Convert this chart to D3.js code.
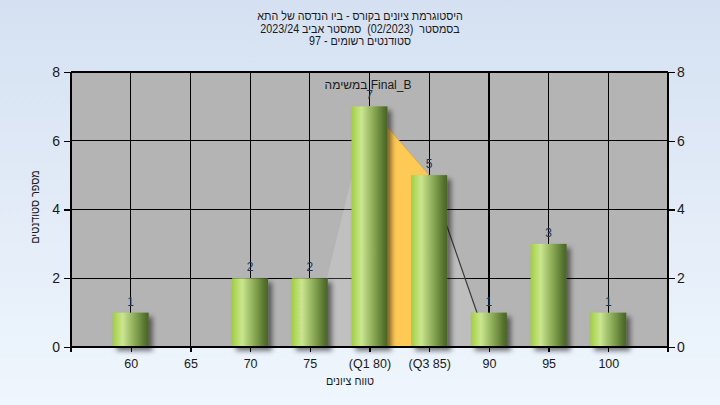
<!DOCTYPE html>
<html>
<head>
<meta charset="utf-8">
<script src="https://cdn.jsdelivr.net/npm/d3@7"></script>
<style>
  html, body { margin: 0; padding: 0; }
  svg { display: block; }
  .pre { white-space: pre; }
</style>
</head>
<body>
<svg id="chart" width="720" height="405"></svg>
<script>
// ---- data ----
const categories = ["60", "65", "70", "75", "(Q1 80)", "(Q3 85)", "90", "95", "100"];
const counts = [1, 0, 2, 2, 7, 5, 1, 3, 1];
const yTicks = [0, 2, 4, 6, 8];
// quartile overlay: whisker start, Q1, Q3, whisker end
const boxCats = ["75", "(Q1 80)", "(Q3 85)", "90"];
const boxVals = [0, 7, 5, 0];
const titleLines = [
  "היסטוגרמת ציונים בקורס - ביו הנדסה של התא",
  "בסמסטר  (02/2023)  סמסטר אביב 2023/24",
  "סטודנטים רשומים - 97"
];
const annotation = "במשימה Final_B";
const xTitle = "טווח ציונים";
const yTitle = "מספר סטודנטים";

// ---- layout ----
const W = 720, H = 405;
const plot = { left: 71, right: 668, top: 72, bottom: 347 };
const svg = d3.select("#chart");
const font = "'Liberation Sans', Arial, sans-serif";
const sx = 0.86; // horizontal condensing of the Hebrew captions

const defs = svg.append("defs");
const bg = defs.append("linearGradient").attr("id", "bg").attr("x1", 0).attr("y1", 0).attr("x2", 0).attr("y2", 1);
bg.append("stop").attr("offset", "0%").attr("stop-color", "#d5e1f2");
bg.append("stop").attr("offset", "100%").attr("stop-color", "#eff6fd");

const bar = defs.append("linearGradient").attr("id", "barG").attr("x1", 0).attr("y1", 0).attr("x2", 1).attr("y2", 0);
[["0%", "#a2cc44"], ["12%", "#b4da62"], ["28%", "#cae690"], ["45%", "#a9c672"], ["70%", "#7a9a48"], ["90%", "#55722e"], ["100%", "#4a6426"]]
  .forEach(([o, c]) => bar.append("stop").attr("offset", o).attr("stop-color", c));

const sh = defs.append("filter").attr("id", "shadow").attr("x", "-30%").attr("y", "-30%").attr("width", "180%").attr("height", "160%");
sh.append("feDropShadow").attr("dx", 4).attr("dy", 4).attr("stdDeviation", 2.4)
  .attr("flood-color", "#000").attr("flood-opacity", 0.5);

svg.append("rect").attr("width", W).attr("height", H).attr("fill", "url(#bg)");

// ---- scales ----
const x = d3.scalePoint().domain(categories).range([plot.left, plot.right]).padding(1);
const y = d3.scaleLinear().domain([0, 8]).range([plot.bottom, plot.top]);
const barW = 36;

// plot background
svg.append("rect").attr("x", plot.left).attr("y", plot.top)
  .attr("width", plot.right - plot.left).attr("height", plot.bottom - plot.top)
  .attr("fill", "#b4b4b4");

// gridlines
const grid = svg.append("g").attr("stroke", "#000").attr("stroke-width", 1.2).attr("shape-rendering", "crispEdges");
categories.forEach(c => grid.append("line").attr("x1", x(c)).attr("x2", x(c)).attr("y1", plot.top).attr("y2", plot.bottom));
yTicks.forEach(t => grid.append("line").attr("x1", plot.left).attr("x2", plot.right).attr("y1", y(t)).attr("y2", y(t)));

// quartile overlay
const pts = boxCats.map((c, i) => [x(c), y(boxVals[i])]);
svg.append("path")
  .attr("d", d3.line()([pts[0], pts[1], [pts[1][0], y(0)]]) + "Z")
  .attr("fill", "#ffffff").attr("fill-opacity", 0.16);
svg.append("path")
  .attr("d", d3.line()([[pts[1][0], y(0)], pts[1], pts[2], [pts[2][0], y(0)]]) + "Z")
  .attr("fill", "#ffc955").attr("stroke", "#d9a640").attr("stroke-width", 0.8);
svg.append("path")
  .attr("d", d3.line()([pts[2], pts[3], [pts[2][0], y(0)]]) + "Z")
  .attr("fill", "#ffffff").attr("fill-opacity", 0.14);
svg.append("path")
  .attr("d", d3.line()([pts[2], pts[3]]))
  .attr("stroke", "#3a3a3a").attr("stroke-width", 1.2).attr("fill", "none");

// bars
const data = categories.map((c, i) => ({ c, v: counts[i] }));
svg.append("g").selectAll("rect").data(data.filter(d => d.v > 0)).join("rect")
  .attr("x", d => x(d.c) - barW / 2)
  .attr("y", d => y(d.v))
  .attr("width", barW)
  .attr("height", d => y(0) - y(d.v))
  .attr("fill", "url(#barG)")
  .attr("filter", "url(#shadow)");

// value labels
svg.append("g").selectAll("text").data(data.filter(d => d.v > 0)).join("text")
  .attr("x", d => x(d.c))
  .attr("y", d => y(d.v) - 7)
  .attr("text-anchor", "middle")
  .attr("font-family", font).attr("font-size", 12)
  .attr("fill", "#1e3552")
  .text(d => d.v);

// annotation
svg.append("text").attr("x", 368).attr("y", 89).attr("text-anchor", "middle")
  .attr("font-family", font).attr("font-size", 12).attr("fill", "#1a1a1a")
  .text(annotation);

// axes
const axisColor = "#000";
const yLeft = d3.axisLeft(y).tickValues(yTicks).tickSize(7).tickPadding(4);
const gL = svg.append("g").attr("transform", `translate(${plot.left},0)`).call(yLeft);
const yRight = d3.axisRight(y).tickValues(yTicks).tickSize(7).tickPadding(2);
const gR = svg.append("g").attr("transform", `translate(${plot.right},0)`).call(yRight);
const xAxis = d3.axisBottom(x).tickSize(5).tickPadding(7);
const gX = svg.append("g").attr("transform", `translate(0,${plot.bottom})`).call(xAxis);
[gL, gR, gX].forEach(g => {
  g.select(".domain").remove();
  g.selectAll("line").attr("stroke", axisColor).attr("stroke-width", 1.2).attr("shape-rendering", "crispEdges");
  g.selectAll("text").attr("font-family", font).attr("fill", "#1a1a1a");
});
gL.selectAll("text").attr("font-size", 14);
gR.selectAll("text").attr("font-size", 14);
gX.selectAll("text").attr("font-size", 12.5);

// axis lines
const al = svg.append("g").attr("stroke", axisColor).attr("stroke-width", 1.2).attr("shape-rendering", "crispEdges");
al.append("line").attr("x1", plot.left).attr("x2", plot.left).attr("y1", plot.top).attr("y2", plot.bottom + 5);
al.append("line").attr("x1", plot.right).attr("x2", plot.right).attr("y1", plot.top).attr("y2", plot.bottom + 5);
al.append("line").attr("x1", plot.left).attr("x2", plot.right).attr("y1", plot.bottom).attr("y2", plot.bottom);

// titles
svg.append("g").attr("transform", `translate(360,0) scale(${sx},1)`)
  .selectAll("text").data(titleLines).join("text")
  .attr("class", "pre")
  .attr("x", 0).attr("y", (d, i) => 20.5 + i * 12.4)
  .attr("text-anchor", "middle").attr("direction", "rtl")
  .attr("font-family", font).attr("font-size", 12.5).attr("fill", "#1a1a1a")
  .text(d => d);

svg.append("text").attr("transform", `translate(350,385) scale(${sx},1)`)
  .attr("text-anchor", "middle")
  .attr("font-family", font).attr("font-size", 12.5).attr("fill", "#1a1a1a")
  .text(xTitle);

svg.append("text").attr("transform", `translate(39,207) rotate(-90) scale(${sx},1)`)
  .attr("text-anchor", "middle")
  .attr("font-family", font).attr("font-size", 12.5).attr("fill", "#1a1a1a")
  .text(yTitle);
</script>
</body>
</html>
